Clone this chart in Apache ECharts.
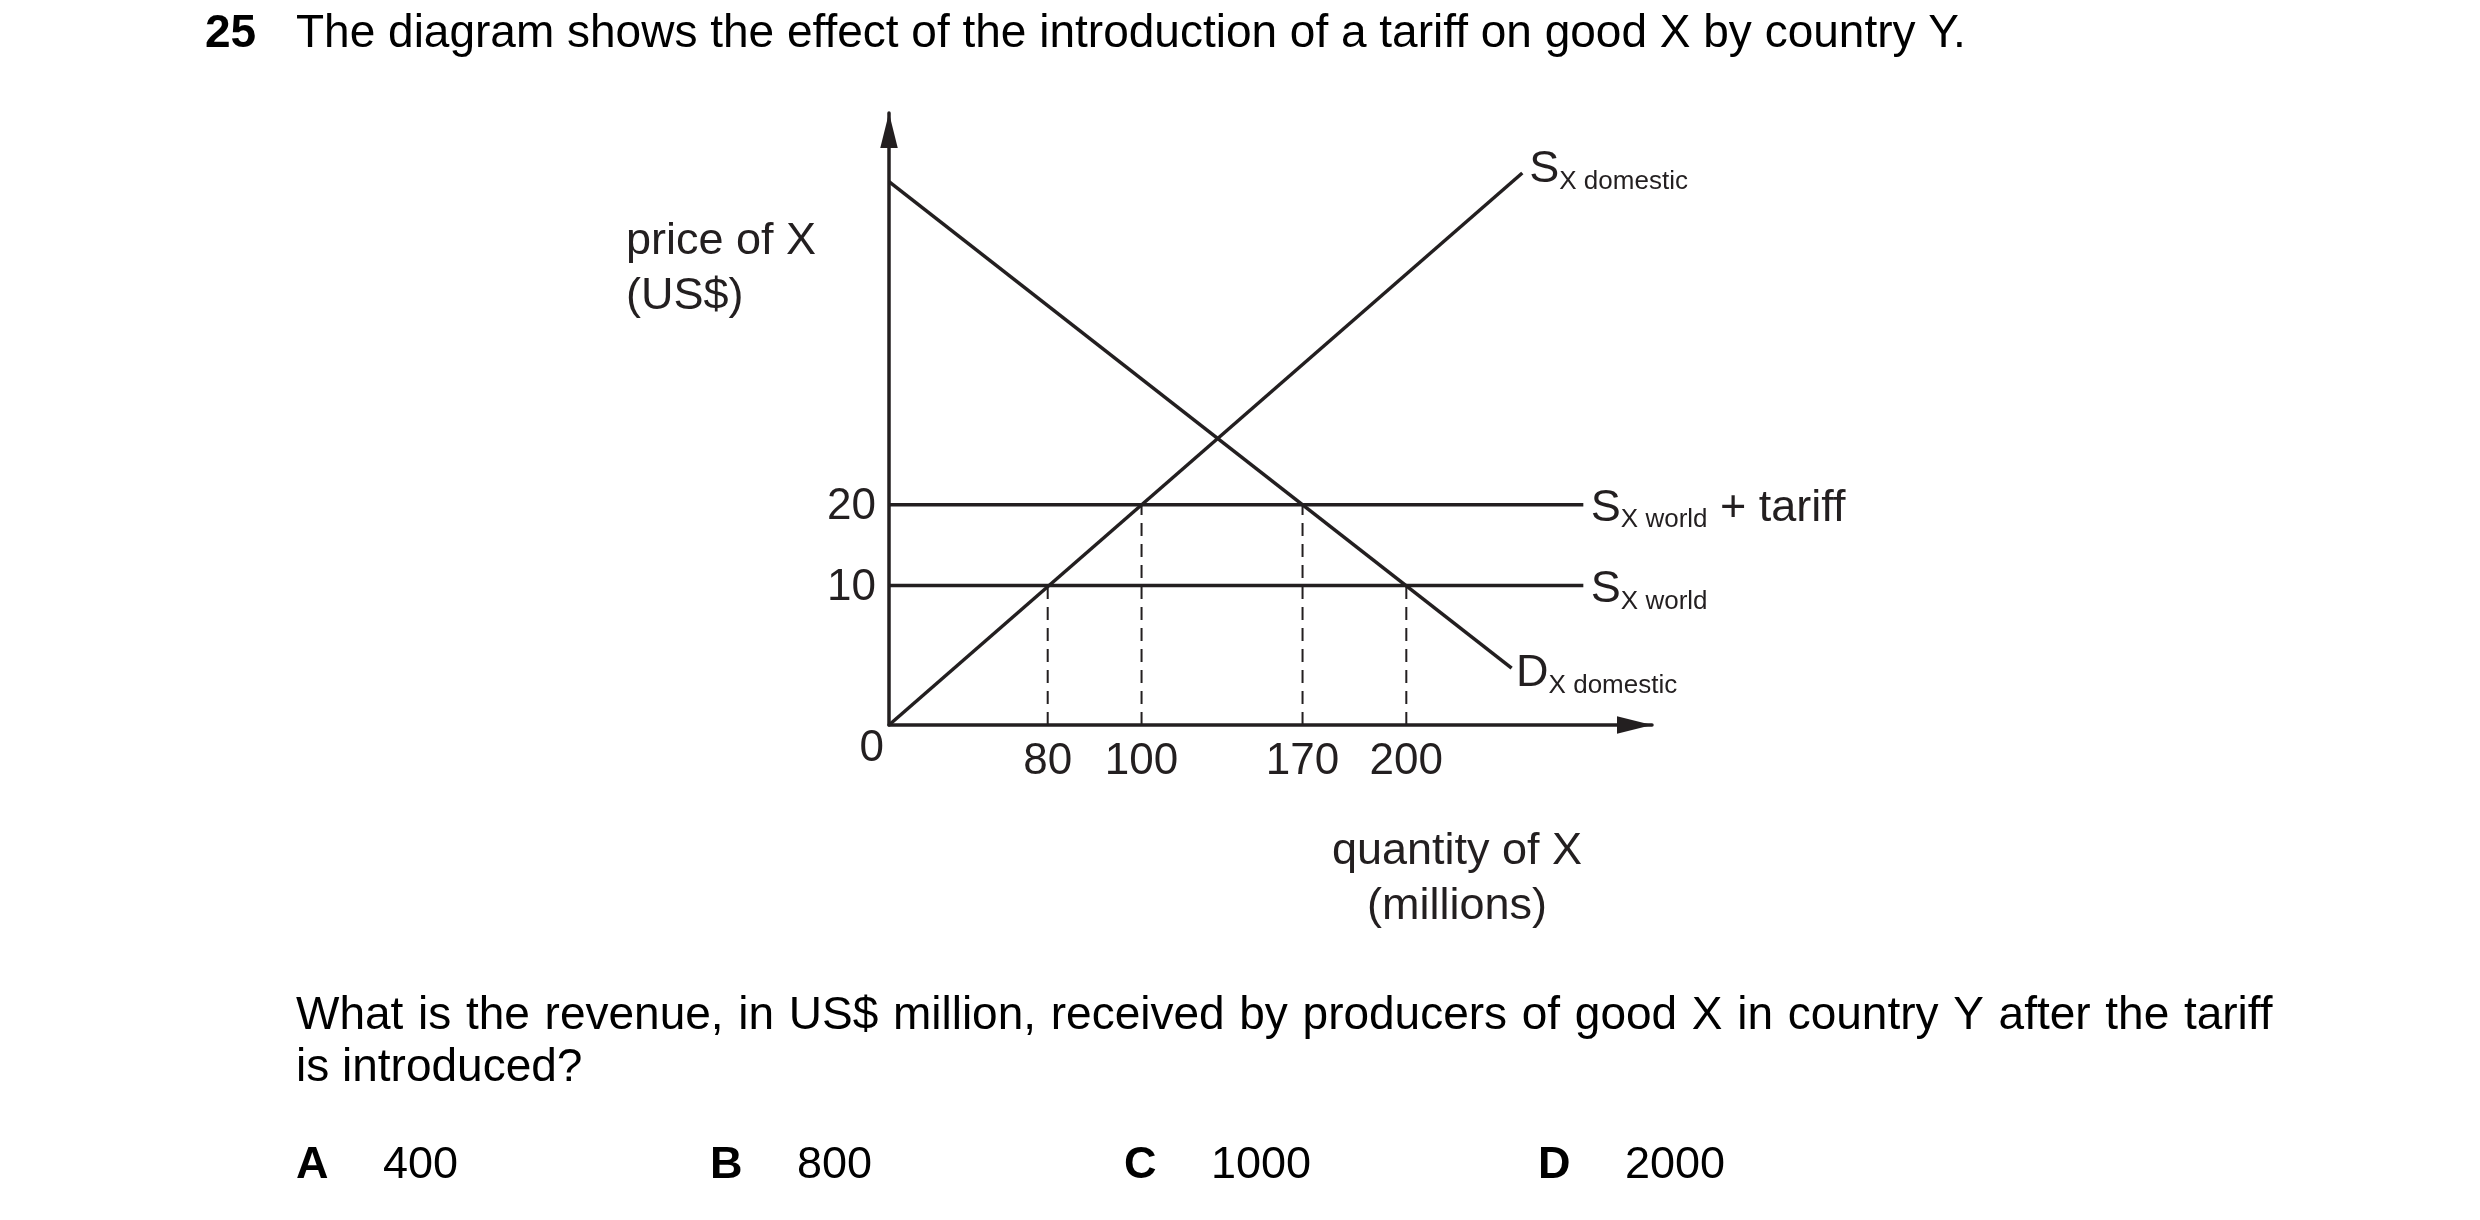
<!DOCTYPE html>
<html>
<head>
<meta charset="utf-8">
<script src="https://cdn.jsdelivr.net/npm/echarts@6/dist/echarts.min.js"></script>
<style>
html,body{margin:0;padding:0;background:#ffffff;}
#chart{width:2480px;height:1220px;}
</style>
</head>
<body>
<div id="chart"></div>
<script>
// ---------- texts ----------
const questionNumber = '25';
const questionStem = 'The diagram shows the effect of the introduction of a tariff on good X by country Y.';
const questionAskLines = [
  'What is the revenue, in US$ million, received by producers of good X in country Y after the tariff',
  'is introduced?'
];
const optionLetters = ['A', 'B', 'C', 'D'];
const optionValues = [400, 800, 1000, 2000];
const yAxisName = 'price of X\n(US$)';
const xAxisName = 'quantity of X\n(millions)';

// ---------- schematic diagram data ----------
// The diagram is not drawn to scale: values are placed in diagram units (0–100 along each axis).
const quantityTickLabels = ['80', '100', '170', '200'];
const quantityTickPos = [20.8, 33.1, 54.2, 67.8];
const priceTickLabels = ['0', '10', '20'];
const priceTickPos = [0, 22.8, 36.0];

const supplyDomestic = [[0, 0], [83.0, 90.2]];
const demandDomestic = [[0, 88.8], [81.6, 9.3]];
const supplyWorld = [[0, 22.8], [91.0, 22.8]];
const supplyWorldTariff = [[0, 36.0], [91.0, 36.0]];
// dashed drop lines from the intersections down to the quantity axis
const dropQuantityPos = [20.8, 33.1, 54.2, 67.8];
const dropPricePos = [22.8, 36.0, 36.0, 22.8];

// ---------- styles ----------
const INK = '#231f20';
const FONT = "'Liberation Sans', Arial, Helvetica, sans-serif";
const ARROW = 'path://M5,0 L10,20 L0,20 Z';
const LINE_W = 3.5;

function labelRich() {
  return {
    s: { fontSize: 45, fontFamily: FONT, color: INK },
    sub: { fontSize: 26, fontFamily: FONT, color: INK, padding: [24, 0, 0, 0] }
  };
}

function curve(name, data, text, offset) {
  return {
    type: 'line',
    name: name,
    data: data,
    symbol: 'none',
    silent: true,
    animation: false,
    z: 3,
    lineStyle: { color: INK, width: LINE_W },
    endLabel: {
      show: true,
      formatter: function () { return text; },
      distance: 0,
      offset: offset,
      rich: labelRich()
    }
  };
}

const series = [
  curve('S domestic', supplyDomestic, '{s|S}{sub|X domestic}', [7, -3]),
  curve('D domestic', demandDomestic, '{s|D}{sub|X domestic}', [4.5, 6]),
  curve('S world + tariff', supplyWorldTariff, '{s|S}{sub|X world}{s| + tariff}', [7.5, 3.5]),
  curve('S world', supplyWorld, '{s|S}{sub|X world}', [7.5, 4])
];
dropQuantityPos.forEach(function (q, i) {
  series.push({
    type: 'line',
    name: 'drop ' + quantityTickLabels[i],
    data: [[q, 0], [q, dropPricePos[i]]],
    symbol: 'none',
    silent: true,
    animation: false,
    z: 2,
    lineStyle: { color: INK, width: 2, type: [13, 8] }
  });
});

const optionText = optionLetters.map(function (l, i) {
  return '{b|' + l + '}{v|' + optionValues[i] + '}';
}).join('');

// first line of the question is justified in the original layout
const askText = questionAskLines[0].split(' ').map(function (w) { return '{w|' + w + '}'; }).join(' ')
  + '\n{l|' + questionAskLines[1] + '}';

const QTEXT = { fontSize: 46, fontWeight: 'normal', fontFamily: FONT, color: '#000', lineHeight: 52 };

const chart = echarts.init(document.getElementById('chart'), null, { renderer: 'canvas' });
chart.setOption({
  backgroundColor: '#ffffff',
  animation: false,
  title: [
    {
      text: '{n|' + questionNumber + '}{t|' + questionStem + '}',
      left: 205, top: 7, padding: 0,
      textStyle: {
        fontSize: 46, fontWeight: 'normal', fontFamily: FONT, color: '#000', lineHeight: 55,
        rich: {
          n: { fontSize: 46, fontWeight: 'bold', fontFamily: FONT, color: '#000', width: 91, lineHeight: 55 },
          t: { fontSize: 46, fontWeight: 'normal', fontFamily: FONT, color: '#000', lineHeight: 55 }
        }
      }
    },
    {
      text: askText,
      left: 296, top: 990, padding: 0,
      textStyle: Object.assign({}, QTEXT, {
        rich: {
          w: Object.assign({}, QTEXT, { padding: [0, 1.9, 0, 0] }),
          l: Object.assign({}, QTEXT)
        }
      })
    },
    {
      text: optionText,
      left: 296, top: 1138, padding: 0,
      textStyle: {
        fontSize: 45, fontWeight: 'normal', fontFamily: FONT, color: '#000', lineHeight: 55,
        rich: {
          b: { fontSize: 45, fontWeight: 'bold', fontFamily: FONT, color: '#000', width: 87, lineHeight: 55 },
          v: { fontSize: 45, fontWeight: 'normal', fontFamily: FONT, color: '#000', width: 327, lineHeight: 55 }
        }
      }
    },
    {
      text: yAxisName,
      left: 626, top: 214, padding: 0,
      textStyle: { fontSize: 45, fontWeight: 'normal', fontFamily: FONT, color: INK, lineHeight: 55 }
    },
    {
      text: xAxisName,
      left: 1457, top: 824.5, padding: 0, textAlign: 'center',
      textStyle: { fontSize: 45, fontWeight: 'normal', fontFamily: FONT, color: INK, lineHeight: 55 }
    }
  ],
  grid: { left: 889, top: 113, width: 763, height: 612, outerBoundsMode: 'none', containLabel: false },
  xAxis: {
    type: 'value', min: 0, max: 100,
    axisLine: {
      show: true, onZero: true,
      symbol: ['none', ARROW], symbolSize: [19, 35], symbolOffset: [0, -17.5],
      lineStyle: { color: INK, width: LINE_W }
    },
    axisTick: { show: false },
    splitLine: { show: false },
    axisLabel: {
      customValues: quantityTickPos,
      formatter: function (v) {
        const i = quantityTickPos.indexOf(v);
        return i >= 0 ? quantityTickLabels[i] : '';
      },
      margin: 15, fontSize: 44, fontFamily: FONT, color: INK
    }
  },
  yAxis: {
    type: 'value', min: 0, max: 100,
    axisLine: {
      show: true, onZero: true,
      symbol: ['none', ARROW], symbolSize: [19, 35], symbolOffset: [0, -17.5],
      lineStyle: { color: INK, width: LINE_W }
    },
    axisTick: { show: false },
    splitLine: { show: false },
    axisLabel: {
      customValues: priceTickPos,
      formatter: function (v) {
        const i = priceTickPos.indexOf(v);
        if (i < 0) return '';
        return (v === 0 ? '{z|' : '{n|') + priceTickLabels[i] + '}';
      },
      margin: 5, fontSize: 44, fontFamily: FONT, color: INK,
      rich: {
        z: { fontSize: 44, fontFamily: FONT, color: INK, padding: [48, 0, 0, 0] },
        n: { fontSize: 44, fontFamily: FONT, color: INK, padding: [4, 8, 0, 0] }
      }
    }
  },
  series: series
});
</script>
</body>
</html>
